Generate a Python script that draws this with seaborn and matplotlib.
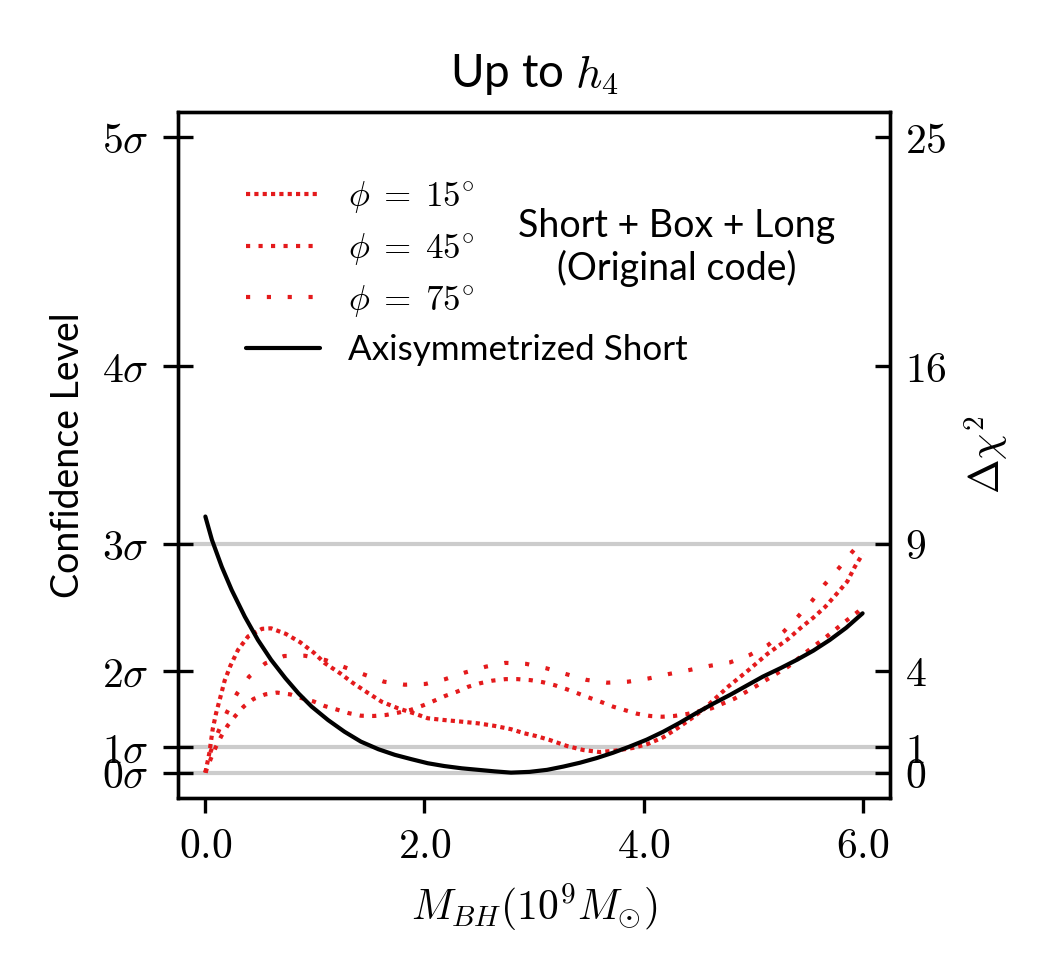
import matplotlib
matplotlib.use('Agg')
import matplotlib.pyplot as plt
import seaborn as sns
from matplotlib.ticker import FormatStrFormatter

# masses (10^9 Msun) and delta chi^2
mass_axisym = [0, 0.06, 0.15, 0.24, 0.36, 0.48, 0.60, 0.73, 0.85, 0.97, 1.12, 1.27,
               1.42, 1.58, 1.73, 1.88, 2.03, 2.18, 2.34, 2.49, 2.64, 2.79, 2.96, 3.12,
               3.27, 3.42, 3.57, 3.72, 3.87, 4.03, 4.18, 4.33, 4.48, 4.63, 4.79, 4.94,
               5.09, 5.25, 5.40, 5.55, 5.70, 5.85, 6.0]
chi2_axisym = [10.08, 9.16, 8.1, 7.19, 6.14, 5.22, 4.44, 3.72, 3.12, 2.6, 2.07, 1.61,
               1.22, 0.92, 0.70, 0.53, 0.37, 0.26, 0.17, 0.11, 0.05, 0.0, 0.03, 0.11,
               0.24, 0.39, 0.57, 0.78, 1.02, 1.30, 1.61, 1.96, 2.34, 2.70, 3.06, 3.42,
               3.78, 4.11, 4.44, 4.80, 5.22, 5.70, 6.27]

mass_phi15 = [0, 0.036, 0.067, 0.098, 0.137, 0.176, 0.228, 0.298, 0.39, 0.517, 0.60,
              0.735, 0.866, 0.99, 1.09, 1.23, 1.35, 1.49, 1.61, 1.76, 1.90, 2.03, 2.18,
              2.33, 2.49, 2.64, 2.79, 2.91, 3.02, 3.14, 3.30, 3.45, 3.60, 3.75, 3.90,
              4.04, 4.18, 4.31, 4.44, 4.56, 4.62, 4.78, 4.96, 5.13, 5.32, 5.43, 5.55,
              5.66, 5.76, 5.86, 5.93, 6.0]
chi2_phi15 = [0.0, 0.76, 1.71, 2.34, 2.97, 3.62, 4.2, 4.83, 5.36, 5.66, 5.68, 5.46,
              5.13, 4.72, 4.31, 3.91, 3.52, 3.12, 2.79, 2.53, 2.34, 2.14, 2.07, 2.01,
              1.94, 1.84, 1.71, 1.55, 1.44, 1.29, 1.05, 0.89, 0.81, 0.87, 0.97, 1.13,
              1.39, 1.75, 2.14, 2.53, 2.78, 3.41, 4.04, 4.67, 5.26, 5.68, 6.1, 6.53,
              7.02, 7.52, 8.11, 8.6]

mass_phi45 = [0, 0.05, 0.097, 0.146, 0.203, 0.273, 0.35, 0.44, 0.547, 0.654, 0.775,
              0.88, 0.99, 1.09, 1.21, 1.31, 1.42, 1.54, 1.65, 1.76, 1.875, 1.99, 2.09,
              2.19, 2.30, 2.40, 2.51, 2.62, 2.74, 2.85, 2.97, 3.08, 3.19, 3.30, 3.40,
              3.51, 3.62, 3.72, 3.83, 3.94, 4.06, 4.17, 4.28, 4.40, 4.62, 4.83, 5.03,
              5.22, 5.32, 5.49, 5.67, 5.86, 5.96, 6.0]
chi2_phi45 = [0.0, 0.55, 1.02, 1.44, 1.85, 2.23, 2.6, 2.9, 3.08, 3.15, 3.08,
              2.93, 2.8, 2.62, 2.47, 2.34, 2.24, 2.23, 2.27, 2.36, 2.47, 2.65, 2.83,
              3.02, 3.19, 3.38, 3.52, 3.62, 3.68, 3.68, 3.64, 3.56, 3.44, 3.28, 3.12,
              2.94, 2.77, 2.6, 2.46, 2.32, 2.23, 2.2, 2.23, 2.31, 2.53, 2.91, 3.41,
              3.91, 4.17, 4.76, 5.35, 6.01, 6.34, 6.5]

mass_phi75 = [0, 0.05, 0.12, 0.20, 0.29, 0.40, 0.547, 0.72, 0.91, 1.097, 1.27, 1.45,
              1.63, 1.82, 2.01, 2.19, 2.37, 2.56, 2.74, 2.93, 3.11, 3.30, 3.48, 3.67,
              3.86, 4.05, 4.23, 4.42, 4.60, 4.79, 4.97, 5.14, 5.28, 5.41, 5.54, 5.65,
              5.78, 5.90, 6.0]
chi2_phi75 = [0.0, 0.85, 1.63, 2.4, 3.12, 3.78, 4.3, 4.59, 4.6, 4.43, 4.15, 3.86,
              3.58, 3.46, 3.49, 3.68, 3.94, 4.17, 4.32, 4.28, 4.11, 3.87, 3.65, 3.54,
              3.58, 3.71, 3.88, 4.04, 4.2, 4.34, 4.63, 5.03, 5.55, 6.14, 6.77, 7.39,
              8.03, 8.66, 9.15]

sigma_levels = [0, 1, 2, 3, 4, 5]
chi2_ticks = [s ** 2 for s in sigma_levels]
ref_levels = [0, 1, 9]
x_ticks = [0, 2, 4, 6]

sns.set_style('ticks')
plt.rcParams['font.family'] = ['Lato', 'DejaVu Sans']
plt.rcParams['mathtext.fontset'] = 'cm'
plt.rcParams['axes.linewidth'] = 0.8
for clave in ['text.color', 'axes.labelcolor', 'axes.edgecolor', 'xtick.color', 'ytick.color']:
    plt.rcParams[clave] = 'black'

rojo = '#e41a1c'

fig = plt.figure(figsize=(3.5, 3.25), dpi=300)
ax = fig.add_subplot(111)
fig.subplots_adjust(left=0.1695, right=0.8476, bottom=0.1815, top=0.8851)

for nivel in ref_levels:
    ax.axhline(nivel, color='#cccccc', lw=1.0, zorder=0)

sns.lineplot(x=mass_phi15, y=chi2_phi15, ax=ax, color=rojo, lw=1.0,
             linestyle=(0, (1, 1)), label=r'$\phi\;=\;15^{\circ}$')
sns.lineplot(x=mass_phi45, y=chi2_phi45, ax=ax, color=rojo, lw=1.0,
             linestyle=(0, (1, 2)), label=r'$\phi\;=\;45^{\circ}$')
sns.lineplot(x=mass_phi75, y=chi2_phi75, ax=ax, color=rojo, lw=1.0,
             linestyle=(0, (1, 4)), label=r'$\phi\;=\;75^{\circ}$')
sns.lineplot(x=mass_axisym, y=chi2_axisym, ax=ax, color='black', lw=1.0,
             label='Axisymmetrized Short')

ax.set_xlim(-0.25, 6.25)
ax.set_ylim(-1, 26)
ax.set_xticks(x_ticks)
ax.xaxis.set_major_formatter(FormatStrFormatter('$%.1f$'))
ax.set_yticks(chi2_ticks)
ax.set_yticklabels([r'$%d\sigma$' % s for s in sigma_levels])
ax.tick_params(axis='y', which='major', direction='inout', length=7, width=0.8,
               labelsize=10, left=True, right=False)
ax.tick_params(axis='x', which='major', direction='out', length=3.5, width=0.8,
               labelsize=10, top=False)
ax.set_xlabel(r'$M_{BH}(10^9M_{\odot})$', fontsize=10)
ax.set_ylabel('Confidence Level', fontsize=9)
ax.set_title('Up to $h_4$', fontsize=11)

ax2 = ax.twinx()
ax2.set_ylim(ax.get_ylim())
ax2.set_yticks(chi2_ticks)
ax2.set_yticklabels(['$%d$' % c for c in chi2_ticks])
ax2.tick_params(axis='y', direction='in', length=3.5, width=0.8, labelsize=10)
ax2.set_ylabel(r'$\Delta\chi^2$', fontsize=10)

ax.legend(loc='upper left', bbox_to_anchor=(0.052, 0.948), frameon=False,
          fontsize=8.4, handlelength=2.1, handletextpad=0.8, labelspacing=0.45)
ax.text(0.70, 0.803, 'Short + Box + Long\n(Original code)', transform=ax.transAxes,
        ha='center', va='center', fontsize=9, linespacing=1.2)

fig.savefig('out.png', dpi=300)
